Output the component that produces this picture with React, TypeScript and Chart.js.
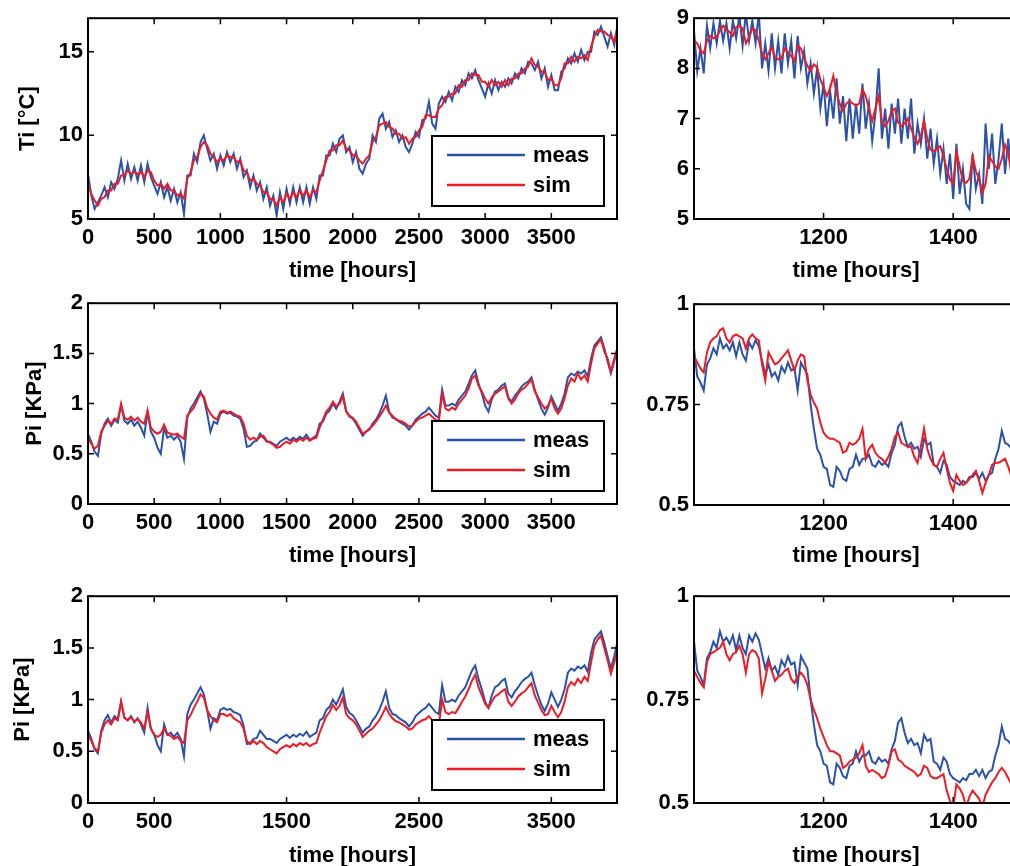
import React, { useEffect, useRef } from 'react';
import { Chart, registerables } from 'chart.js';

Chart.register(...registerables);

// ---------------- data ----------------
// long records: one value every 25 hours, 0 .. 4000 h
const tiSimLong = [
  7.1, 6.5, 6.1, 5.8, 6.2, 6.3, 6.7, 6.7, 7.1, 7.1,
  7.6, 7.6, 7.9, 7.7, 7.8, 7.7, 7.8, 7.5, 7.9, 7.8,
  7.3, 7.0, 7.1, 6.8, 7.1, 6.7, 6.7, 6.4, 6.5, 6.2,
  7.4, 7.8, 8.5, 8.7, 9.3, 9.6, 9.4, 8.9, 8.7, 8.4,
  8.6, 8.5, 8.8, 8.7, 8.7, 8.4, 8.5, 7.9, 7.8, 7.3,
  7.4, 7.1, 7.0, 6.6, 6.6, 6.2, 6.2, 5.8, 6.3, 6.0,
  6.5, 6.2, 6.6, 6.3, 6.7, 6.4, 6.7, 6.3, 6.7, 6.6,
  7.3, 7.9, 8.5, 9.1, 9.1, 9.4, 9.4, 9.7, 9.2, 9.1,
  8.8, 8.8, 8.5, 8.3, 8.6, 8.8, 9.6, 9.9, 10.6, 10.7,
  10.8, 10.5, 10.4, 10.1, 10.1, 9.8, 9.9, 9.5, 9.8, 9.9,
  10.3, 10.5, 11.2, 11.2, 11.1, 11.1, 11.6, 11.8, 12.3, 12.3,
  12.5, 12.5, 13.0, 12.9, 13.3, 13.3, 13.7, 13.6, 13.6, 13.2,
  13.2, 12.9, 13.3, 13.0, 13.2, 12.9, 13.3, 13.0, 13.4, 13.4,
  13.7, 13.7, 14.0, 14.1, 14.6, 14.2, 14.1, 13.8, 13.8, 13.3,
  13.4, 13.0, 13.0, 13.4, 14.3, 14.3, 14.7, 14.4, 14.7, 14.6,
  14.8, 14.5, 15.3, 15.9, 16.3, 16.2, 16.2, 16.0, 15.9, 15.6,
  16.4,
];
const tiMeasLong = [
  7.7, 6.4, 5.6, 6.0, 6.4, 6.9, 6.3, 7.2, 6.8, 7.4,
  8.5, 7.3, 8.3, 7.4, 8.1, 7.3, 8.2, 7.2, 8.3, 7.5,
  7.0, 6.5, 7.2, 6.3, 6.9, 6.1, 6.8, 6.0, 6.6, 5.3,
  7.6, 7.6, 8.9, 8.4, 9.6, 10.0, 9.2, 8.5, 8.9, 8.0,
  8.8, 8.2, 9.0, 8.4, 8.9, 8.0, 8.6, 7.5, 7.9, 6.9,
  7.6, 6.7, 7.2, 6.2, 6.9, 5.8, 6.4, 5.2, 6.6, 5.6,
  6.8, 5.9, 6.9, 6.0, 6.9, 6.0, 6.9, 5.9, 6.9, 6.2,
  7.6, 7.6, 8.8, 8.8, 9.5, 9.0, 9.8, 10.0, 9.0, 9.3,
  8.4, 9.0, 8.0, 7.7, 8.3, 8.6, 10.0, 9.6, 11.0, 11.3,
  10.4, 10.8, 9.9, 10.3, 9.6, 10.0, 9.3, 9.0, 9.5, 10.2,
  9.9, 10.9, 11.0, 12.0, 10.7, 10.4, 11.9, 12.3, 12.0, 12.6,
  12.1, 12.9, 12.6, 13.3, 13.0, 13.7, 13.4, 13.9, 13.3, 12.8,
  12.3, 13.1, 12.5, 13.3, 12.7, 13.2, 12.9, 13.4, 13.1, 13.7,
  13.4, 14.0, 13.7, 14.4, 14.3, 13.9, 14.4, 13.4, 14.0, 12.9,
  13.6, 12.7, 12.7, 13.8, 14.0, 14.6, 14.3, 14.9, 14.4, 15.1,
  14.5, 15.0, 15.0, 16.2, 16.0, 16.5, 15.9, 15.3, 16.1, 15.4,
  16.6,
];
const piMeasLong = [
  0.70, 0.62, 0.52, 0.48, 0.70, 0.80, 0.85, 0.78, 0.84, 0.81,
  0.98, 0.83, 0.80, 0.84, 0.78, 0.82, 0.76, 0.68, 0.92, 0.72,
  0.66, 0.56, 0.50, 0.76, 0.66, 0.68, 0.64, 0.68, 0.62, 0.45,
  0.86, 0.95, 1.00, 1.06, 1.12, 1.05, 0.90, 0.72, 0.82, 0.80,
  0.90, 0.92, 0.90, 0.91, 0.88, 0.87, 0.85, 0.75, 0.57, 0.58,
  0.62, 0.63, 0.70, 0.66, 0.62, 0.62, 0.60, 0.58, 0.62, 0.64,
  0.66, 0.63, 0.66, 0.64, 0.67, 0.65, 0.69, 0.64, 0.66, 0.68,
  0.80, 0.82, 0.90, 0.93, 1.00, 0.95, 1.02, 1.10, 0.93, 0.87,
  0.85, 0.80, 0.74, 0.68, 0.72, 0.74, 0.80, 0.84, 0.90, 0.98,
  1.08, 0.92, 0.86, 0.85, 0.82, 0.80, 0.78, 0.74, 0.78, 0.84,
  0.87, 0.90, 0.92, 0.96, 0.92, 0.88, 0.86, 1.14, 0.98, 0.98,
  1.00, 0.98, 1.04, 1.08, 1.12, 1.20, 1.28, 1.33, 1.20, 1.10,
  0.98, 0.92, 1.04, 1.12, 1.14, 1.18, 1.20, 1.06, 1.02, 1.08,
  1.12, 1.17, 1.20, 1.22, 1.26, 1.14, 1.04, 0.95, 0.89, 0.96,
  1.07, 1.00, 0.93, 1.00, 1.10, 1.26, 1.30, 1.28, 1.32, 1.30,
  1.33, 1.27, 1.45, 1.58, 1.62, 1.66, 1.55, 1.42, 1.30, 1.42,
  1.56,
];
const piSimALong = [
  0.65, 0.60, 0.55, 0.58, 0.72, 0.78, 0.83, 0.80, 0.85, 0.84,
  1.00, 0.86, 0.84, 0.87, 0.83, 0.86, 0.82, 0.80, 0.93, 0.76,
  0.72, 0.70, 0.72, 0.79, 0.71, 0.70, 0.69, 0.70, 0.67, 0.65,
  0.88, 0.92, 0.96, 1.03, 1.10, 1.07, 0.96, 0.90, 0.86, 0.84,
  0.92, 0.93, 0.91, 0.92, 0.90, 0.88, 0.87, 0.80, 0.68, 0.64,
  0.66, 0.64, 0.67, 0.68, 0.63, 0.61, 0.59, 0.56, 0.57, 0.60,
  0.62, 0.60, 0.64, 0.62, 0.65, 0.63, 0.66, 0.63, 0.65, 0.66,
  0.76, 0.84, 0.92, 0.96, 1.02, 0.97, 1.00, 1.07, 0.92, 0.88,
  0.86, 0.82, 0.76, 0.70, 0.72, 0.75, 0.78, 0.82, 0.87, 0.92,
  0.98, 0.91, 0.88, 0.84, 0.83, 0.82, 0.80, 0.77, 0.78, 0.82,
  0.85, 0.86, 0.88, 0.90, 0.87, 0.84, 0.82, 1.10, 0.95, 0.93,
  0.96, 0.94, 1.00, 1.04, 1.08, 1.15, 1.25, 1.28, 1.18, 1.12,
  1.05, 1.00, 1.06, 1.10, 1.12, 1.15, 1.17, 1.05, 1.00, 1.04,
  1.10, 1.14, 1.16, 1.20, 1.24, 1.12, 1.06, 1.00, 0.95, 0.98,
  1.05, 0.95, 0.90, 0.95, 1.05, 1.18, 1.25, 1.22, 1.30, 1.24,
  1.28, 1.22, 1.40, 1.55, 1.60, 1.64, 1.52, 1.45, 1.32, 1.45,
  1.55,
];
const piSimBLong = [
  0.66, 0.60, 0.53, 0.50, 0.68, 0.76, 0.80, 0.76, 0.82, 0.80,
  0.98, 0.82, 0.80, 0.83, 0.79, 0.81, 0.78, 0.72, 0.88, 0.72,
  0.66, 0.64, 0.66, 0.72, 0.66, 0.65, 0.62, 0.64, 0.60, 0.58,
  0.80, 0.85, 0.92, 0.98, 1.05, 1.02, 0.90, 0.84, 0.80, 0.78,
  0.86, 0.86, 0.84, 0.86, 0.82, 0.80, 0.78, 0.72, 0.60, 0.57,
  0.60, 0.57, 0.60, 0.58, 0.54, 0.52, 0.50, 0.48, 0.52, 0.54,
  0.56, 0.54, 0.57, 0.55, 0.58, 0.56, 0.58, 0.55, 0.57, 0.58,
  0.68, 0.76, 0.84, 0.88, 0.95, 0.90, 0.94, 1.02, 0.86, 0.82,
  0.80, 0.76, 0.70, 0.64, 0.67, 0.70, 0.72, 0.76, 0.80, 0.86,
  0.93, 0.86, 0.82, 0.79, 0.78, 0.76, 0.74, 0.71, 0.72, 0.76,
  0.78, 0.80, 0.81, 0.84, 0.80, 0.77, 0.75, 1.00, 0.88, 0.86,
  0.88, 0.87, 0.92, 0.98, 1.03, 1.10, 1.18, 1.24, 1.12, 1.04,
  0.96, 0.92, 0.98, 1.03, 1.05, 1.08, 1.10, 0.98, 0.94, 0.98,
  1.03, 1.06, 1.08, 1.12, 1.16, 1.04, 0.97, 0.90, 0.85, 0.86,
  0.94, 0.88, 0.83, 0.88, 0.98, 1.12, 1.17, 1.14, 1.20, 1.16,
  1.22, 1.18, 1.36, 1.52, 1.58, 1.62, 1.50, 1.38, 1.25, 1.36,
  1.48,
];

// zoomed records: one value every 5 hours, 1000 .. 1500 h
const tiSimZoom = [
  8.55, 8.50, 8.35, 8.30, 8.55, 8.65, 8.60, 8.62, 8.75, 8.85,
  8.78, 8.72, 8.65, 8.82, 8.85, 8.80, 8.50, 8.62, 8.80, 8.76,
  8.55, 8.30, 8.18, 8.30, 8.42, 8.22, 8.18, 8.20, 8.40, 8.32,
  8.25, 8.15, 8.45, 8.40, 8.20, 8.05, 7.95, 8.08, 8.02, 7.78,
  7.62, 7.45, 7.60, 7.85, 7.50, 7.30, 7.15, 7.30, 7.35, 7.30,
  7.25, 7.30, 7.58, 7.45, 7.20, 6.95, 7.20, 7.45, 6.95, 6.85,
  6.95, 7.15, 7.20, 6.92, 6.85, 6.90, 7.00, 6.80, 6.62, 6.50,
  6.65, 6.95, 6.60, 6.38, 6.35, 6.40, 6.45, 6.25, 6.00, 5.78,
  5.70, 6.35, 6.05, 5.75, 5.72, 5.80, 6.25, 5.95, 5.80, 5.52,
  5.70, 6.25, 6.15, 6.05, 6.00, 6.20, 6.48, 6.30, 5.90, 6.05,
  6.20,
];
const tiMeasZoom = [
  8.75, 7.95, 8.40, 7.90, 8.85, 8.40, 8.90, 8.50, 8.95, 8.55,
  8.90, 8.40, 8.95, 8.60, 9.05, 8.45, 9.10, 8.55, 8.95, 8.50,
  9.10, 8.00, 8.50, 7.95, 8.70, 8.00, 8.55, 7.90, 8.70, 8.10,
  8.55, 7.80, 8.65, 8.00, 8.35, 7.70, 8.10, 7.50, 8.00, 7.20,
  7.70, 6.85, 7.55, 7.00, 7.80, 6.90, 7.45, 6.55, 7.40, 6.60,
  7.30, 6.70, 7.70, 6.80, 7.30, 6.55, 7.10, 8.00, 6.60, 7.20,
  6.40, 7.30, 6.70, 7.40, 6.50, 7.20, 6.60, 7.40, 6.30, 6.90,
  6.50, 7.00, 6.20, 6.80, 6.10, 6.60, 5.90, 6.40, 5.70, 6.30,
  5.40, 6.50, 5.50, 6.00, 5.30, 5.20, 6.30, 5.60, 5.90, 5.30,
  6.90, 6.00, 6.70, 5.70, 6.20, 6.90, 5.90, 6.60, 5.80, 7.00,
  6.40,
];
const piMeasZoom = [
  0.89, 0.82, 0.805, 0.785, 0.85, 0.865, 0.89, 0.875, 0.915, 0.89,
  0.90, 0.885, 0.905, 0.87, 0.905, 0.875, 0.86, 0.905, 0.89, 0.91,
  0.895, 0.86, 0.825, 0.85, 0.82, 0.83, 0.81, 0.845, 0.83, 0.855,
  0.835, 0.84, 0.785, 0.855, 0.84, 0.825, 0.75, 0.69, 0.64, 0.625,
  0.595, 0.59, 0.55, 0.545, 0.595, 0.585, 0.565, 0.56, 0.59, 0.595,
  0.625, 0.60, 0.615, 0.615, 0.625, 0.60, 0.595, 0.61, 0.60, 0.605,
  0.595, 0.63, 0.65, 0.695, 0.705, 0.67, 0.645, 0.655, 0.64, 0.645,
  0.62, 0.665, 0.65, 0.655, 0.60, 0.595, 0.58, 0.61, 0.60, 0.57,
  0.56, 0.555, 0.55, 0.56, 0.555, 0.57, 0.57, 0.58, 0.565, 0.58,
  0.56, 0.575, 0.58, 0.615, 0.64, 0.685, 0.655, 0.65, 0.64, 0.65,
  0.63,
];
const piSimAZoom = [
  0.87, 0.855, 0.84, 0.83, 0.88, 0.905, 0.915, 0.92, 0.935, 0.94,
  0.915, 0.905, 0.92, 0.925, 0.92, 0.915, 0.89, 0.915, 0.925, 0.915,
  0.91, 0.85, 0.81, 0.88, 0.865, 0.85, 0.855, 0.865, 0.875, 0.885,
  0.86, 0.835, 0.86, 0.875, 0.87, 0.81, 0.775, 0.755, 0.74, 0.705,
  0.68, 0.67, 0.665, 0.665, 0.66, 0.655, 0.63, 0.635, 0.655, 0.65,
  0.655, 0.665, 0.69, 0.615, 0.64, 0.65, 0.63, 0.62, 0.615, 0.605,
  0.62, 0.64, 0.67, 0.68, 0.655, 0.65, 0.645, 0.645, 0.62, 0.605,
  0.645, 0.69, 0.64, 0.615, 0.60, 0.595, 0.615, 0.63, 0.59, 0.555,
  0.535, 0.575, 0.56, 0.55, 0.555, 0.565, 0.575, 0.585, 0.56, 0.53,
  0.555, 0.575, 0.60, 0.605, 0.605, 0.61, 0.615, 0.595, 0.57, 0.58,
  0.59,
];
const piSimBZoom = [
  0.82, 0.805, 0.79, 0.78, 0.84, 0.86, 0.865, 0.87, 0.875, 0.89,
  0.86, 0.845, 0.86, 0.865, 0.88, 0.86, 0.815, 0.86, 0.87, 0.865,
  0.85, 0.765, 0.80, 0.84, 0.82, 0.795, 0.805, 0.81, 0.82, 0.825,
  0.80, 0.79, 0.805, 0.815, 0.805, 0.785, 0.75, 0.725, 0.705, 0.68,
  0.66, 0.64, 0.625, 0.625, 0.62, 0.615, 0.585, 0.59, 0.60, 0.605,
  0.61, 0.62, 0.64, 0.59, 0.575, 0.58, 0.575, 0.57, 0.56, 0.565,
  0.59, 0.625, 0.63, 0.605, 0.60, 0.59, 0.585, 0.58, 0.575, 0.565,
  0.57, 0.59, 0.585, 0.565, 0.56, 0.56, 0.565, 0.57, 0.53, 0.505,
  0.49, 0.545, 0.535, 0.52, 0.49, 0.515, 0.53, 0.52, 0.51, 0.49,
  0.52, 0.535, 0.55, 0.56, 0.575, 0.585, 0.575, 0.56, 0.545, 0.55,
  0.56,
];

// sampling grids (hours)
const LONG_STEP = 25;
const ZOOM_START = 1000;
const ZOOM_STEP = 5;
const hoursLong = tiSimLong.map((_, i) => i * LONG_STEP);
const hoursZoom = tiSimZoom.map((_, i) => ZOOM_START + i * ZOOM_STEP);

// ticks
const xTicksLong = [0, 500, 1000, 1500, 2000, 2500, 3000, 3500];
const xTicksLongSparse = [0, 500, 1500, 2500, 3500];
const xTicksZoom = [1200, 1400];
const yTicksTi = [5, 10, 15];
const yTicksTiZoom = [5, 6, 7, 8, 9];
const yTicksPi = [0, 0.5, 1, 1.5, 2];
const yTicksPiZoom = [0.5, 0.75, 1];

const seriesNames = ['meas', 'sim'];
const xTitle = 'time [hours]';

// ---------------- styling ----------------
const FONT = "'Liberation Sans', Arial, Helvetica, sans-serif";
const BLUE = '#2b52a8';
const RED = '#ec1c26';
const tickFont = { family: FONT, size: 22, weight: 'bold' as const };

type Panel = {
  left: number; top: number; width: number; height: number;
  padRight: number; yAxisWidth: number;
  xMin: number; xMax: number; xTicks: number[];
  yMin: number; yMax: number; yTicks: number[];
  times: number[]; meas: number[]; sim: number[];
  yTitle: string; yTitlePad: number; xTitlePad: number; legend: boolean;
};

const panels: Panel[] = [
  { left: 0, top: 0, width: 630, height: 289, padRight: 13, yAxisWidth: 88,
    xMin: 0, xMax: 3996, xTicks: xTicksLong, yMin: 5, yMax: 17, yTicks: yTicksTi,
    times: hoursLong, meas: tiMeasLong, sim: tiSimLong,
    yTitle: 'Ti [°C]', yTitlePad: 14.5, xTitlePad: 4.8, legend: true },
  { left: 630, top: 0, width: 398, height: 289, padRight: 10, yAxisWidth: 64,
    xMin: 1000, xMax: 1500, xTicks: xTicksZoom, yMin: 5, yMax: 9, yTicks: yTicksTiZoom,
    times: hoursZoom, meas: tiMeasZoom, sim: tiSimZoom,
    yTitle: '', yTitlePad: 0, xTitlePad: 4.8, legend: false },
  { left: 0, top: 285, width: 630, height: 289, padRight: 13, yAxisWidth: 88,
    xMin: 0, xMax: 3996, xTicks: xTicksLong, yMin: 0, yMax: 2, yTicks: yTicksPi,
    times: hoursLong, meas: piMeasLong, sim: piSimALong,
    yTitle: 'Pi [KPa]', yTitlePad: 21.5, xTitlePad: 4.8, legend: true },
  { left: 630, top: 286, width: 398, height: 289, padRight: 10, yAxisWidth: 64,
    xMin: 1000, xMax: 1500, xTicks: xTicksZoom, yMin: 0.5, yMax: 1, yTicks: yTicksPiZoom,
    times: hoursZoom, meas: piMeasZoom, sim: piSimAZoom,
    yTitle: '', yTitlePad: 0, xTitlePad: 5.8, legend: false },
  { left: 0, top: 578, width: 630, height: 295, padRight: 13, yAxisWidth: 88,
    xMin: 0, xMax: 3996, xTicks: xTicksLongSparse, yMin: 0, yMax: 2, yTicks: yTicksPi,
    times: hoursLong, meas: piMeasLong, sim: piSimBLong,
    yTitle: 'Pi [KPa]', yTitlePad: 9.5, xTitlePad: 4.1, legend: true },
  { left: 630, top: 578, width: 398, height: 295, padRight: 10, yAxisWidth: 64,
    xMin: 1000, xMax: 1500, xTicks: xTicksZoom, yMin: 0.5, yMax: 1, yTicks: yTicksPiZoom,
    times: hoursZoom, meas: piMeasZoom, sim: piSimBZoom,
    yTitle: '', yTitlePad: 0, xTitlePad: 4.1, legend: false },
];

const framePlugin = {
  id: 'frame',
  afterDatasetsDraw(chart: any, _args: any, opts: any) {
    const { ctx, chartArea: a, scales } = chart;
    const xs = scales.x;
    const ys = scales.y;
    ctx.save();
    ctx.strokeStyle = '#000';
    ctx.lineWidth = 1.5;
    const T = 6;
    ctx.beginPath();
    for (const t of xs.ticks) {
      const px = xs.getPixelForValue(t.value);
      ctx.moveTo(px, a.bottom); ctx.lineTo(px, a.bottom - T);
      ctx.moveTo(px, a.top); ctx.lineTo(px, a.top + T);
    }
    for (const t of ys.ticks) {
      const py = ys.getPixelForValue(t.value);
      ctx.moveTo(a.left, py); ctx.lineTo(a.left + T, py);
      ctx.moveTo(a.right, py); ctx.lineTo(a.right - T, py);
    }
    ctx.stroke();
    ctx.lineWidth = 2;
    ctx.strokeRect(a.left, a.top, a.right - a.left, a.bottom - a.top);

    if (opts && opts.legend) {
      const w = 172, h = 70;
      const bx = a.right - 13 - w;
      const by = a.bottom - 13 - h;
      ctx.fillStyle = '#fff';
      ctx.fillRect(bx, by, w, h);
      ctx.strokeStyle = '#000';
      ctx.lineWidth = 2;
      ctx.strokeRect(bx, by, w, h);
      const rows = [
        { label: chart.data.datasets[1].label, color: chart.data.datasets[1].borderColor, y: by + 19 },
        { label: chart.data.datasets[0].label, color: chart.data.datasets[0].borderColor, y: by + 49 },
      ];
      ctx.font = `bold 22px ${FONT}`;
      ctx.textBaseline = 'middle';
      ctx.textAlign = 'left';
      for (const r of rows) {
        ctx.strokeStyle = r.color;
        ctx.lineWidth = 2.5;
        ctx.beginPath();
        ctx.moveTo(bx + 15, r.y);
        ctx.lineTo(bx + 93, r.y);
        ctx.stroke();
        ctx.fillStyle = '#000';
        ctx.fillText(r.label, bx + 101, r.y + 1);
      }
    }
    ctx.restore();
  },
};

function PanelChart({ p }: { p: Panel }) {
  const ref = useRef<HTMLCanvasElement>(null);
  useEffect(() => {
    if (!ref.current) return;
    const chart = new Chart(ref.current, {
      type: 'line',
      data: {
        datasets: [
          {
            label: seriesNames[1],
            data: p.times.map((t, i) => ({ x: t, y: p.sim[i] })),
            borderColor: RED, borderWidth: 2, pointRadius: 0, tension: 0, order: 0,
          },
          {
            label: seriesNames[0],
            data: p.times.map((t, i) => ({ x: t, y: p.meas[i] })),
            borderColor: BLUE, borderWidth: 2, pointRadius: 0, tension: 0, order: 1,
          },
        ],
      },
      options: {
        responsive: false,
        animation: false,
        devicePixelRatio: 1,
        layout: { padding: { top: 15, right: p.padRight, bottom: 0, left: 0 } },
        plugins: {
          legend: { display: false },
          tooltip: { enabled: false },
          frame: { legend: p.legend },
        } as any,
        scales: {
          x: {
            type: 'linear',
            min: p.xMin,
            max: p.xMax,
            afterBuildTicks: (s: any) => { s.ticks = p.xTicks.map((v) => ({ value: v })); },
            afterFit: (s: any) => { s.height = 70; },
            ticks: {
              font: tickFont, color: '#000', padding: 6, maxRotation: 0, autoSkip: false,
              callback: (v: any) => String(v),
            },
            grid: { display: false, drawTicks: false },
            border: { display: false },
            title: {
              display: true, text: xTitle, font: tickFont, color: '#000',
              padding: { top: 0, bottom: p.xTitlePad },
            },
          },
          y: {
            type: 'linear',
            min: p.yMin,
            max: p.yMax,
            afterBuildTicks: (s: any) => { s.ticks = p.yTicks.map((v) => ({ value: v })); },
            afterFit: (s: any) => { s.width = p.yAxisWidth; },
            ticks: {
              font: tickFont, color: '#000', padding: 5, autoSkip: false,
              callback: (v: any) => String(v),
            },
            grid: { display: false, drawTicks: false },
            border: { display: false },
            title: {
              display: p.yTitle !== '', text: p.yTitle, font: tickFont, color: '#000',
              padding: { top: p.yTitlePad, bottom: 0 },
            },
          },
        },
      } as any,
      plugins: [framePlugin],
    });
    return () => chart.destroy();
  }, [p]);
  return (
    <canvas
      ref={ref}
      width={p.width}
      height={p.height}
      style={{ position: 'absolute', left: p.left, top: p.top, width: p.width, height: p.height }}
    />
  );
}

export default function App() {
  return (
    <div
      style={{
        position: 'absolute', left: 0, top: 0, width: 1010, height: 866,
        overflow: 'hidden', background: '#fff',
      }}
    >
      {panels.map((p, i) => (
        <PanelChart key={i} p={p} />
      ))}
    </div>
  );
}
